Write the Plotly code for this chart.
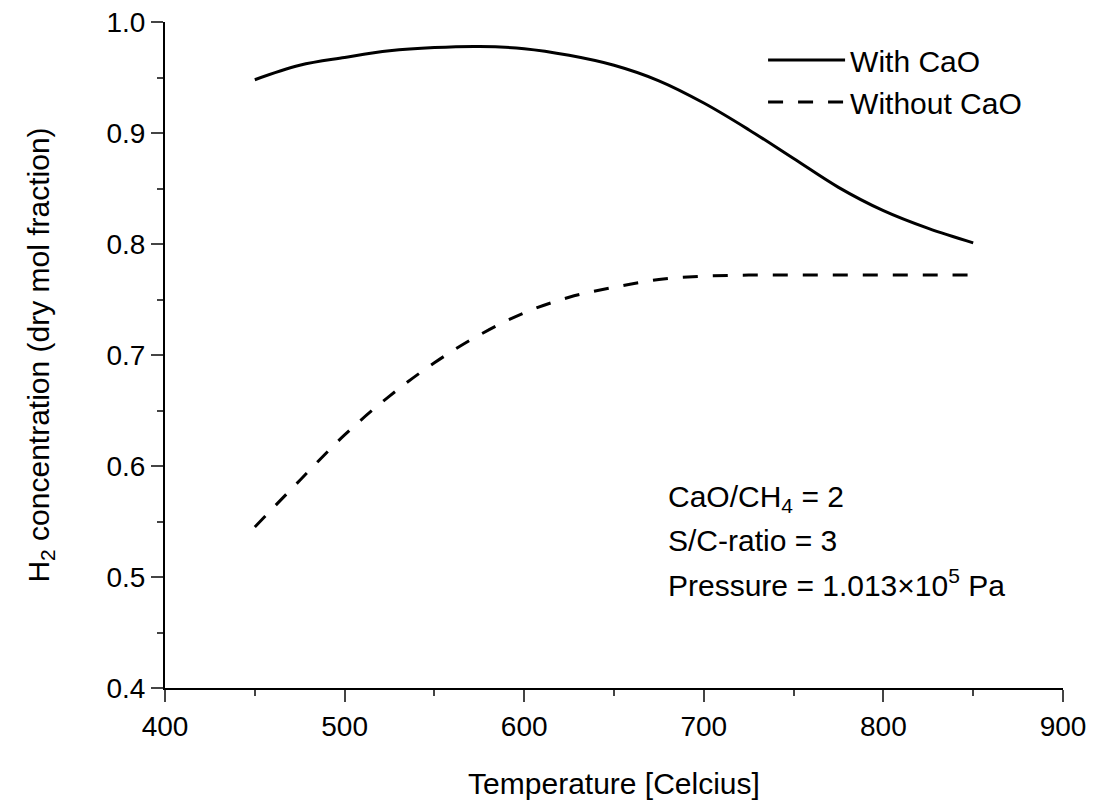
import plotly.graph_objects as go

temps = [450, 475, 500, 525, 550, 575, 600, 625, 650, 675, 700, 725, 750, 775, 800, 825, 850]
with_cao = [0.948, 0.961, 0.968, 0.974, 0.977, 0.978, 0.976, 0.970, 0.961, 0.947, 0.927, 0.903, 0.877, 0.851, 0.830, 0.814, 0.801]
without_cao = [0.545, 0.587, 0.628, 0.663, 0.693, 0.718, 0.738, 0.752, 0.761, 0.768, 0.771, 0.772, 0.772, 0.772, 0.772, 0.772, 0.772]

x_ticks = [400, 500, 600, 700, 800, 900]
y_ticks = [0.4, 0.5, 0.6, 0.7, 0.8, 0.9, 1.0]
y_labels = ["0.4", "0.5", "0.6", "0.7", "0.8", "0.9", "1.0"]

notes = ["CaO/CH<sub>4</sub> = 2", "S/C-ratio = 3", "Pressure = 1.013×10<sup>5</sup> Pa"]

FONT = "Liberation Sans, Arial, sans-serif"

fig = go.Figure()
fig.add_trace(go.Scatter(x=temps, y=with_cao, mode="lines", name="With CaO",
                         line=dict(color="black", width=3, shape="spline")))
fig.add_trace(go.Scatter(x=temps, y=without_cao, mode="lines", name="Without CaO",
                         line=dict(color="black", width=3, shape="spline", dash="15px,15px")))

ann = []
for i, t in enumerate(notes):
    ann.append(dict(x=0.558, y=0.285 - i * 0.0635, xref="paper", yref="paper", text=t,
                    showarrow=False, xanchor="left", yanchor="middle",
                    font=dict(size=30, color="black", family=FONT)))

fig.update_layout(
    width=1097, height=806,
    margin=dict(l=165, r=34, t=22, b=118),
    paper_bgcolor="white", plot_bgcolor="white",
    font=dict(family=FONT, size=28, color="black"),
    showlegend=True,
    legend=dict(x=0.666, y=0.982, xanchor="left", yanchor="top", bgcolor="rgba(0,0,0,0)",
                font=dict(size=30), tracegroupgap=0, itemwidth=77),
    annotations=ann,
    xaxis=dict(range=[400, 900], tickvals=x_ticks, ticks="outside", ticklen=12, tickwidth=2,
               showline=True, linewidth=2, linecolor="black", showgrid=False, zeroline=False,
               automargin=False,
               minor=dict(dtick=50, ticks="outside", ticklen=6, tickwidth=2, showgrid=False),
               title=dict(text="Temperature [Celcius]", font=dict(size=30), standoff=32),
               tickfont=dict(size=28)),
    yaxis=dict(range=[0.4, 1.0], tickvals=y_ticks, ticktext=y_labels, ticks="outside", ticklen=12,
               tickwidth=2, showline=True, linewidth=2, linecolor="black", showgrid=False,
               zeroline=False, automargin=False,
               minor=dict(dtick=0.05, ticks="outside", ticklen=6, tickwidth=2, showgrid=False),
               title=dict(text="H<sub>2</sub> concentration (dry mol fraction)", font=dict(size=30),
                          standoff=48),
               tickfont=dict(size=28)),
)

fig.write_html("out.html")
